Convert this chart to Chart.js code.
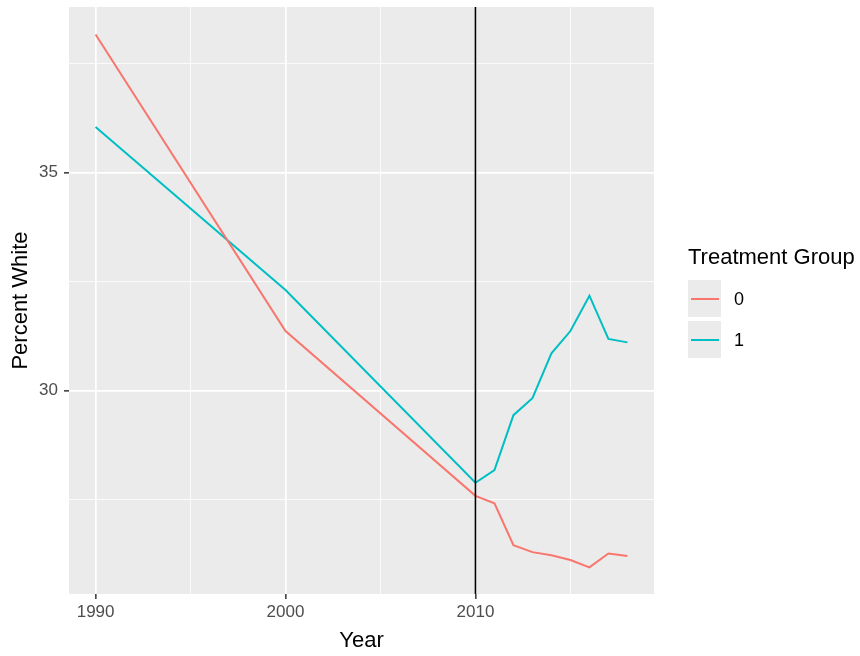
<!DOCTYPE html>
<html>
<head>
<meta charset="utf-8">
<script src="https://cdn.jsdelivr.net/npm/chart.js@4.4.1/dist/chart.umd.min.js"></script>
<style>
  html, body { margin: 0; padding: 0; background: #fff; }
</style>
</head>
<body>
<canvas id="canv" width="860" height="656"></canvas>
<script>
// data
const years = [1990, 2000, 2010, 2011, 2012, 2013, 2014, 2015, 2016, 2017, 2018]
const group0 = [38.17, 31.37, 27.59, 27.42, 26.46, 26.30, 26.23, 26.12, 25.95, 26.27, 26.21]
const group1 = [36.05, 32.31, 27.89, 28.18, 29.44, 29.83, 30.86, 31.37, 32.18, 31.19, 31.11]
const groupNames = ["0", "1"]
const groupColors = ["#F8766D", "#00BFC4"]
const xTicks = [1990, 1995, 2000, 2005, 2010, 2015]
const yTicks = [27.5, 30, 32.5, 35, 37.5]
const treatmentYear = 2010
const legendTitle = "Treatment Group"

const FONT = "'Liberation Sans', Arial, Helvetica, sans-serif"

function toPoints(vals){
  return years.map((y, i) => ({x: y, y: vals[i]}))
}

const panelBg = {
  id: "panelBg",
  beforeDraw(chart){
    const {ctx, chartArea: a} = chart
    ctx.save()
    ctx.fillStyle = "#EBEBEB"
    ctx.fillRect(a.left, a.top, a.right - a.left, a.bottom - a.top)
    ctx.restore()
  }
}

// black vertical line at the treatment year
const vline = {
  id: "vline",
  afterDatasetsDraw(chart){
    const {ctx, chartArea: a} = chart
    const x = chart.scales.x.getPixelForValue(treatmentYear)
    ctx.save()
    ctx.strokeStyle = "#000"
    ctx.lineWidth = 1.6
    ctx.beginPath()
    ctx.moveTo(x, a.top)
    ctx.lineTo(x, a.bottom)
    ctx.stroke()
    ctx.restore()
  }
}

// ggplot style legend on the right
const ggLegend = {
  id: "ggLegend",
  afterDraw(chart){
    const ctx = chart.ctx
    const x0 = chart.chartArea.right + 34
    ctx.save()
    ctx.fillStyle = "#000"
    ctx.font = "22px " + FONT
    ctx.textBaseline = "alphabetic"
    ctx.fillText(legendTitle, x0, 264)
    chart.data.datasets.forEach((ds, i) => {
      const top = 280 + i * 41
      ctx.fillStyle = "#EBEBEB"
      ctx.fillRect(x0, top, 33, 37)
      ctx.strokeStyle = ds.borderColor
      ctx.lineWidth = 2
      ctx.beginPath()
      ctx.moveTo(x0 + 3, top + 19)
      ctx.lineTo(x0 + 31, top + 19)
      ctx.stroke()
      ctx.fillStyle = "#000"
      ctx.font = "18px " + FONT
      ctx.textBaseline = "middle"
      ctx.fillText(ds.label, x0 + 46, top + 20)
    })
    ctx.restore()
  }
}

const isMajorX = v => v % 10 === 0
const isMajorY = v => v % 5 === 0

new Chart(document.getElementById("canv"), {
  type: "line",
  data: {
    datasets: [
      {label: groupNames[0], data: toPoints(group0), borderColor: groupColors[0], borderWidth: 2, pointRadius: 0, fill: false, tension: 0},
      {label: groupNames[1], data: toPoints(group1), borderColor: groupColors[1], borderWidth: 2, pointRadius: 0, fill: false, tension: 0}
    ]
  },
  options: {
    responsive: false,
    animation: false,
    devicePixelRatio: 1,
    layout: {padding: {top: 7, right: 206, left: 0, bottom: 0}},
    plugins: {legend: {display: false}, tooltip: {enabled: false}},
    scales: {
      x: {
        type: "linear",
        min: 1988.6,
        max: 2019.4,
        afterBuildTicks: s => { s.ticks = xTicks.map(v => ({value: v})) },
        afterFit: s => { s.height = 62; s.paddingLeft = 0; s.paddingRight = 0 },
        border: {display: false},
        grid: {
          color: "#FFFFFF",
          lineWidth: c => isMajorX(c.tick.value) ? 1.7 : 0.8,
          tickColor: c => isMajorX(c.tick.value) ? "#333333" : "rgba(0,0,0,0)",
          tickLength: 5,
          tickWidth: 1.5
        },
        ticks: {
          color: "#4D4D4D",
          font: {family: FONT, size: 17},
          padding: 3,
          maxRotation: 0,
          autoSkip: false,
          callback: v => isMajorX(v) ? String(v) : ""
        },
        title: {display: true, text: "Year", color: "#000", font: {family: FONT, size: 22}, padding: {top: 0, bottom: 2}}
      },
      y: {
        type: "linear",
        min: 25.34,
        max: 38.8,
        afterBuildTicks: s => { s.ticks = yTicks.map(v => ({value: v})) },
        afterFit: s => { s.width = 69; s.paddingTop = 0; s.paddingBottom = 0 },
        border: {display: false},
        grid: {
          color: "#FFFFFF",
          lineWidth: c => isMajorY(c.tick.value) ? 1.7 : 0.8,
          tickColor: c => isMajorY(c.tick.value) ? "#333333" : "rgba(0,0,0,0)",
          tickLength: 5,
          tickWidth: 1.5
        },
        ticks: {
          color: "#4D4D4D",
          font: {family: FONT, size: 17},
          padding: 6,
          autoSkip: false,
          callback: v => isMajorY(v) ? String(v) : ""
        },
        title: {display: true, text: "Percent White", color: "#000", font: {family: FONT, size: 22}, padding: {top: 8, bottom: 0}}
      }
    }
  },
  plugins: [panelBg, vline, ggLegend]
})
</script>
</body>
</html>
